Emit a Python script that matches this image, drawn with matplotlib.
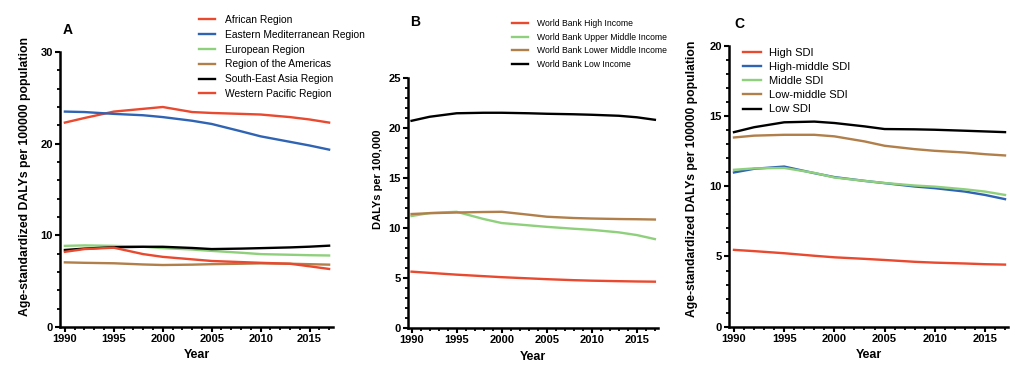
import numpy as np
import matplotlib
matplotlib.use("Agg")
import matplotlib.pyplot as plt
from matplotlib.ticker import MultipleLocator

plt.rcParams['font.family'] = ['Liberation Sans', 'DejaVu Sans']

years = [1990, 1992, 1995, 1998, 2000, 2003, 2005, 2008, 2010, 2013, 2015, 2017]

# panel A - WHO regions
who_names = ["African Region", "Eastern Mediterranean Region", "European Region",
             "Region of the Americas", "South-East Asia Region", "Western Pacific Region"]
african = [22.3, 22.8, 23.5, 23.8, 24.0, 23.45, 23.35, 23.25, 23.18, 22.9, 22.64, 22.3]
east_med = [23.5, 23.45, 23.25, 23.1, 22.9, 22.5, 22.15, 21.35, 20.8, 20.2, 19.8, 19.35]
european = [8.85, 8.9, 8.85, 8.75, 8.6, 8.45, 8.3, 8.1, 7.95, 7.88, 7.83, 7.8]
americas = [7.05, 7.0, 6.95, 6.82, 6.76, 6.8, 6.85, 6.9, 6.94, 6.9, 6.85, 6.8]
se_asia = [8.4, 8.55, 8.7, 8.75, 8.75, 8.62, 8.5, 8.55, 8.6, 8.68, 8.76, 8.87]
w_pacific = [8.2, 8.5, 8.65, 7.95, 7.65, 7.38, 7.2, 7.08, 7.0, 6.9, 6.62, 6.33]

# panel B - World Bank income groups
wb_names = ["World Bank High Income", "World Bank Upper Middle Income",
            "World Bank Lower Middle Income", "World Bank Low Income"]
wb_high = [5.65, 5.53, 5.35, 5.2, 5.1, 4.98, 4.9, 4.8, 4.75, 4.7, 4.67, 4.65]
wb_upper = [11.2, 11.5, 11.62, 10.9, 10.5, 10.27, 10.12, 9.93, 9.82, 9.57, 9.3, 8.9]
wb_lower = [11.4, 11.48, 11.55, 11.6, 11.62, 11.33, 11.13, 11.0, 10.95, 10.9, 10.88, 10.85]
wb_low = [20.7, 21.1, 21.45, 21.5, 21.5, 21.45, 21.4, 21.35, 21.3, 21.2, 21.05, 20.8]

# panel C - SDI quintiles
sdi_names = ["High SDI", "High-middle SDI", "Middle SDI", "Low-middle SDI", "Low SDI"]
sdi_high = [5.47, 5.38, 5.23, 5.05, 4.94, 4.83, 4.75, 4.62, 4.56, 4.5, 4.45, 4.42]
sdi_highmid = [10.98, 11.24, 11.4, 10.93, 10.65, 10.38, 10.22, 9.98, 9.86, 9.62, 9.38, 9.08]
sdi_mid = [11.17, 11.27, 11.3, 10.95, 10.62, 10.38, 10.23, 10.05, 9.97, 9.78, 9.62, 9.38]
sdi_lowmid = [13.47, 13.6, 13.66, 13.66, 13.55, 13.19, 12.88, 12.64, 12.52, 12.4, 12.28, 12.19]
sdi_low = [13.85, 14.2, 14.55, 14.6, 14.5, 14.26, 14.07, 14.05, 14.02, 13.95, 13.9, 13.85]

RED = '#e8492f'
BLUE = '#2f63b3'
GREEN = '#8fd07c'
BROWN = '#b07f4a'
BLACK = '#000000'


def style_axis(ax, ymax, ymajor, yminor, xlim):
    ax.set_xlim(*xlim)
    ax.set_ylim(0, ymax)
    for s in ['top', 'right']:
        ax.spines[s].set_visible(False)
    for s in ['left', 'bottom']:
        ax.spines[s].set_linewidth(1.8)
    ax.xaxis.set_major_locator(MultipleLocator(5))
    ax.xaxis.set_minor_locator(MultipleLocator(1))
    ax.yaxis.set_major_locator(MultipleLocator(ymajor))
    ax.yaxis.set_minor_locator(MultipleLocator(yminor))
    ax.set_xticks(range(1990, 2016, 5))
    ax.tick_params(which='major', length=3.5, width=1.5, direction='out', labelsize=8, pad=1.5)
    ax.tick_params(which='minor', length=2.5, width=1.3, direction='out')
    for lab in ax.get_xticklabels() + ax.get_yticklabels():
        lab.set_fontweight('bold')
    ax.set_xlabel("Year", fontsize=9, fontweight='bold', labelpad=4)


fig = plt.figure(figsize=(10.24, 3.78), dpi=100)

# A
axA = fig.add_axes([0.0586, 0.135, 0.2666, 0.7274])
for vals, c, name in zip([african, east_med, european, americas, se_asia, w_pacific],
                         [RED, BLUE, GREEN, BROWN, BLACK, RED], who_names):
    axA.plot(years, vals, color=c, lw=1.7, label=name)
style_axis(axA, 30, 10, 2, (1989.5, 2017.4))
axA.set_ylabel("Age-standardized DALYs per 100000 population", fontsize=8.8, fontweight='bold')
axA.yaxis.set_label_coords(-0.106, 0.549)
axA.legend(loc='upper left', bbox_to_anchor=(199 / 1024, 1 - 15 / 378), bbox_transform=fig.transFigure,
           frameon=False, fontsize=7.35, handlelength=1.6, handletextpad=0.9, labelspacing=0.47,
           borderpad=0, borderaxespad=0)
fig.text(63 / 1024, 1 - 30 / 378, "A", fontsize=10, fontweight='bold', va='center')

# B
axB = fig.add_axes([0.3984, 0.1315, 0.2442, 0.663])
for vals, c, name in zip([wb_high, wb_upper, wb_lower, wb_low],
                         [RED, GREEN, BROWN, BLACK], wb_names):
    axB.plot(years, vals, color=c, lw=1.7, label=name)
style_axis(axB, 25, 5, 1, (1989.6, 2017.35))
axB.set_ylabel("DALYs per 100,000", fontsize=8, fontweight='bold')
axB.yaxis.set_label_coords(-0.1, 0.596)
axB.legend(loc='upper left', bbox_to_anchor=(512 / 1024, 1 - 19 / 378), bbox_transform=fig.transFigure,
           frameon=False, fontsize=6.2, handlelength=1.9, handletextpad=0.95, labelspacing=0.55,
           borderpad=0, borderaxespad=0)
fig.text(410 / 1024, 1 - 22 / 378, "B", fontsize=10, fontweight='bold', va='center')

# C
axC = fig.add_axes([0.7119, 0.1357, 0.2725, 0.7433])
for vals, c, name in zip([sdi_high, sdi_highmid, sdi_mid, sdi_lowmid, sdi_low],
                         [RED, BLUE, GREEN, BROWN, BLACK], sdi_names):
    axC.plot(years, vals, color=c, lw=1.7, label=name)
style_axis(axC, 20, 5, 1, (1989.5, 2017.3))
axC.set_ylabel("Age-standardized DALYs per 100000 population", fontsize=8.7, fontweight='bold')
axC.yaxis.set_label_coords(-0.111, 0.527)
axC.legend(loc='upper left', bbox_to_anchor=(743 / 1024, 1 - 48 / 378), bbox_transform=fig.transFigure,
           frameon=False, fontsize=8, handlelength=1.6, handletextpad=0.7, labelspacing=0.37,
           borderpad=0, borderaxespad=0)
fig.text(734 / 1024, 1 - 24 / 378, "C", fontsize=10, fontweight='bold', va='center')

fig.savefig("out.png", dpi=100)
